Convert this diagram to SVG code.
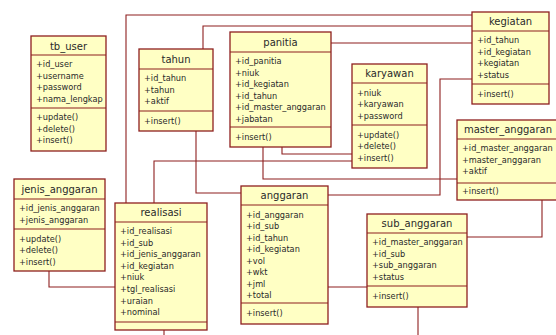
<svg xmlns="http://www.w3.org/2000/svg" width="556" height="335" viewBox="0 0 556 335">
  <style>
    .box { fill: #ffffc4; stroke: #8e1f1f; stroke-width: 1.3; }
    .div { stroke: #8e1f1f; stroke-width: 1.2; }
    .link { fill: none; stroke: #8e1f1f; stroke-width: 1.1; }
    .title { font-family: "DejaVu Sans", Verdana, sans-serif; font-size: 10px; fill: #2a2a2a; text-anchor: middle; }
    .item { font-family: "DejaVu Sans", Verdana, sans-serif; font-size: 8.2px; fill: #2a2a2a; }
  </style>
  <rect width="556" height="335" fill="#ffffff"/>

  <g id="connectors">
    <path class="link" d="M126,203 V15 H472"/>
    <path class="link" d="M203,49 V26 H472"/>
    <path class="link" d="M331,43 H472"/>
    <path class="link" d="M328,195 H440 V79 H472"/>
    <path class="link" d="M282,147 V154 H352"/>
    <path class="link" d="M154,203 V161 H352"/>
    <path class="link" d="M263,147 V179 H457"/>
    <path class="link" d="M196,131 V193 H241"/>
    <path class="link" d="M49,271 V287 H115"/>
    <path class="link" d="M328,287 H367"/>
    <path class="link" d="M467,237 H542 V200"/>
    <path class="link" d="M418,307 V335"/>
    <path class="link" d="M164,330 V335"/>
  </g>

  <g id="tb_user">
    <rect class="box" x="31" y="36" width="75" height="115"/>
    <line class="div" x1="31" y1="55" x2="106" y2="55"/>
    <line class="div" x1="31" y1="108" x2="106" y2="108"/>
    <text class="title" x="68.5" y="49.5">tb_user</text>
    <text class="item" x="36" y="67">+id_user</text>
    <text class="item" x="36" y="78.5">+username</text>
    <text class="item" x="36" y="90">+password</text>
    <text class="item" x="36" y="101.5">+nama_lengkap</text>
    <text class="item" x="36" y="120">+update()</text>
    <text class="item" x="36" y="131.5">+delete()</text>
    <text class="item" x="36" y="143">+insert()</text>
  </g>

  <g id="tahun">
    <rect class="box" x="139" y="49" width="74" height="82"/>
    <line class="div" x1="139" y1="69" x2="213" y2="69"/>
    <line class="div" x1="139" y1="111" x2="213" y2="111"/>
    <text class="title" x="176" y="62.5">tahun</text>
    <text class="item" x="144" y="81">+id_tahun</text>
    <text class="item" x="144" y="92.5">+tahun</text>
    <text class="item" x="144" y="104">+aktif</text>
    <text class="item" x="144" y="123.5">+insert()</text>
  </g>

  <g id="panitia">
    <rect class="box" x="230" y="32" width="101" height="115"/>
    <line class="div" x1="230" y1="52" x2="331" y2="52"/>
    <line class="div" x1="230" y1="127" x2="331" y2="127"/>
    <text class="title" x="280.5" y="45.5">panitia</text>
    <text class="item" x="235" y="64">+id_panitia</text>
    <text class="item" x="235" y="75.5">+niuk</text>
    <text class="item" x="235" y="87">+id_kegiatan</text>
    <text class="item" x="235" y="98.5">+id_tahun</text>
    <text class="item" x="235" y="110">+id_master_anggaran</text>
    <text class="item" x="235" y="121.5">+jabatan</text>
    <text class="item" x="235" y="139.5">+insert()</text>
  </g>

  <g id="karyawan">
    <rect class="box" x="352" y="64" width="75" height="104"/>
    <line class="div" x1="352" y1="83" x2="427" y2="83"/>
    <line class="div" x1="352" y1="125" x2="427" y2="125"/>
    <text class="title" x="389.5" y="77">karyawan</text>
    <text class="item" x="357" y="95.5">+niuk</text>
    <text class="item" x="357" y="107">+karyawan</text>
    <text class="item" x="357" y="118.5">+password</text>
    <text class="item" x="357" y="137.5">+update()</text>
    <text class="item" x="357" y="149">+delete()</text>
    <text class="item" x="357" y="160.5">+insert()</text>
  </g>

  <g id="kegiatan">
    <rect class="box" x="472" y="12" width="77" height="92"/>
    <line class="div" x1="472" y1="31" x2="549" y2="31"/>
    <line class="div" x1="472" y1="84" x2="549" y2="84"/>
    <text class="title" x="510.5" y="25">kegiatan</text>
    <text class="item" x="477" y="43">+id_tahun</text>
    <text class="item" x="477" y="54.5">+id_kegiatan</text>
    <text class="item" x="477" y="66">+kegiatan</text>
    <text class="item" x="477" y="77.5">+status</text>
    <text class="item" x="477" y="96.5">+insert()</text>
  </g>

  <g id="master_anggaran">
    <rect class="box" x="457" y="120" width="106" height="80"/>
    <line class="div" x1="457" y1="139" x2="563" y2="139"/>
    <line class="div" x1="457" y1="183" x2="563" y2="183"/>
    <text class="title" x="508" y="133">master_anggaran</text>
    <text class="item" x="462" y="151">+id_master_anggaran</text>
    <text class="item" x="462" y="162.5">+master_anggaran</text>
    <text class="item" x="462" y="174">+aktif</text>
    <text class="item" x="462" y="193.5">+insert()</text>
  </g>

  <g id="jenis_anggaran">
    <rect class="box" x="14" y="179" width="91" height="92"/>
    <line class="div" x1="14" y1="199" x2="105" y2="199"/>
    <line class="div" x1="14" y1="229" x2="105" y2="229"/>
    <text class="title" x="59.5" y="192.5">jenis_anggaran</text>
    <text class="item" x="19" y="211">+id_jenis_anggaran</text>
    <text class="item" x="19" y="222.5">+jenis_anggaran</text>
    <text class="item" x="19" y="241.5">+update()</text>
    <text class="item" x="19" y="253">+delete()</text>
    <text class="item" x="19" y="264.5">+insert()</text>
  </g>

  <g id="realisasi">
    <rect class="box" x="115" y="203" width="92" height="127"/>
    <line class="div" x1="115" y1="222" x2="207" y2="222"/>
    <line class="div" x1="115" y1="322" x2="207" y2="322"/>
    <text class="title" x="161" y="216">realisasi</text>
    <text class="item" x="120" y="234">+id_realisasi</text>
    <text class="item" x="120" y="245.6">+id_sub</text>
    <text class="item" x="120" y="257.2">+id_jenis_anggaran</text>
    <text class="item" x="120" y="268.8">+id_kegiatan</text>
    <text class="item" x="120" y="280.4">+niuk</text>
    <text class="item" x="120" y="292">+tgl_realisasi</text>
    <text class="item" x="120" y="303.6">+uraian</text>
    <text class="item" x="120" y="315.2">+nominal</text>
  </g>

  <g id="anggaran">
    <rect class="box" x="241" y="186" width="87" height="138"/>
    <line class="div" x1="241" y1="205" x2="328" y2="205"/>
    <line class="div" x1="241" y1="303" x2="328" y2="303"/>
    <text class="title" x="284.5" y="199">anggaran</text>
    <text class="item" x="246" y="217.5">+id_anggaran</text>
    <text class="item" x="246" y="229">+id_sub</text>
    <text class="item" x="246" y="240.5">+id_tahun</text>
    <text class="item" x="246" y="252">+id_kegiatan</text>
    <text class="item" x="246" y="263.5">+vol</text>
    <text class="item" x="246" y="275">+wkt</text>
    <text class="item" x="246" y="286.5">+jml</text>
    <text class="item" x="246" y="298">+total</text>
    <text class="item" x="246" y="315.5">+insert()</text>
  </g>

  <g id="sub_anggaran">
    <rect class="box" x="367" y="214" width="100" height="93"/>
    <line class="div" x1="367" y1="233" x2="467" y2="233"/>
    <line class="div" x1="367" y1="286" x2="467" y2="286"/>
    <text class="title" x="417" y="227">sub_anggaran</text>
    <text class="item" x="372" y="245">+id_master_anggaran</text>
    <text class="item" x="372" y="256.5">+id_sub</text>
    <text class="item" x="372" y="268">+sub_anggaran</text>
    <text class="item" x="372" y="279.5">+status</text>
    <text class="item" x="372" y="298.5">+insert()</text>
  </g>
</svg>
